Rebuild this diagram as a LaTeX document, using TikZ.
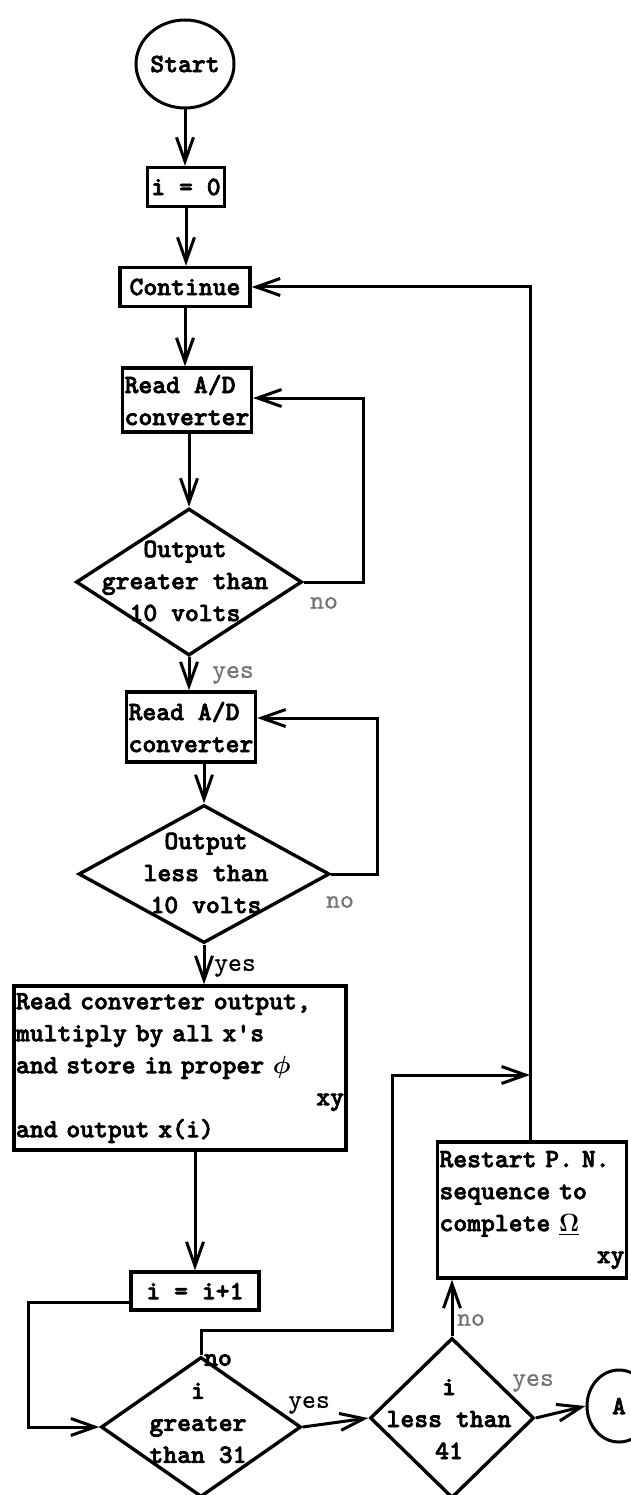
\documentclass[tikz,border=0pt]{standalone}
\usepackage{amsmath}
\usepackage[no-math]{fontspec}
\usetikzlibrary{shapes.geometric,arrows.meta}
% typewriter text, 10 characters to the inch at this scale
\newfontfamily\twb{lmmonolt10-bold.otf}[FakeBold=2.5]
\newfontfamily\twr{lmmono10-regular.otf}[FakeBold=0.6]
\newcommand{\twbold}{\twb\fontsize{26.4}{32}\selectfont}
\newcommand{\twthin}{\twr\fontsize{26.4}{32}\selectfont}
\begin{document}
\begin{tikzpicture}[x=1pt,y=-1pt,
  line width=3pt,
  every node/.style={font=\twbold},
  box/.style={draw, line width=3.4pt, inner sep=2pt, align=left},
  dia/.style={draw, diamond, inner sep=0pt, line width=3.4pt},
  term/.style={draw, ellipse, inner sep=0pt, line width=3pt},
  lbl/.style={font=\twthin},
  faint/.style={lbl, text=black!55},
  flow/.style={-{Straight Barb[length=24pt,width=17pt]}},
]
\fill[white] (0,0) rectangle (631,1495);
\useasboundingbox (0,0) rectangle (631,1495);

% process boxes and terminals
\node[term, minimum width=82pt, minimum height=88pt] (start) at (185,64) {Start};
\node[box, align=center, minimum width=77pt, minimum height=39pt] (i0) at (186,187) {i = 0};
\node[box, minimum width=130pt, minimum height=39pt] (cont) at (185,287) {Continue};
\node[box, minimum width=128pt, minimum height=64pt] (rad1) at (187,400) {Read A/D\\converter};

\node[dia, minimum width=226pt, minimum height=147pt] (d1) at (189,582) {};
\node[align=center] (t1) at (185,581) {Output\\greater than\\10 volts};

\node[box, minimum width=129pt, minimum height=70pt] (rad2) at (191,727) {Read A/D\\converter};

\node[dia, minimum width=251pt, minimum height=138pt] (d2) at (204,874) {};
\node[align=center] (t2) at (206,873) {Output\\less than\\10 volts};

\node[box, text width=328pt, minimum height=164pt] (big) at (180,1068)
  {Read converter output,\\multiply by all x's\\and store in proper $\boldsymbol{\phi}$\\\mbox{}\hfill xy\\and output x(i)};

\node[box, align=center, minimum width=128pt, minimum height=38pt] (i1) at (195,1291) {i = i+1};

\node[dia, minimum width=200pt, minimum height=140pt] (d3) at (201,1427) {};
\node[align=center] (t3) at (198,1423) {i\\greater\\than 31};

\node[dia, minimum width=164pt, minimum height=160pt] (d4) at (452,1418) {};
\node[align=center] (t4) at (449,1419) {i\\less than\\41};

\node[box, text width=185pt, minimum height=136pt] (restart) at (532,1210)
  {Restart P. N.\\sequence to\\complete $\underline{\boldsymbol{\Omega}}$\\\mbox{}\hfill xy};

\node[term, minimum width=64pt, minimum height=72pt] (A) at (619,1406) {A};

% branch labels
\node[faint] (no1) at (324,603) {no};
\node[faint] (yes1) at (233,675) {yes};
\node[faint] (no2) at (340,902) {no};
\node[lbl] (yes2) at (235,968) {yes};
\node (no3) at (218,1360) {no};
\node[lbl] (yes3) at (309,1405) {yes};
\node[faint] (no4) at (471,1320) {no};
\node[faint] (yes4) at (533,1383) {yes};

% bend points of the loops
\coordinate (r1) at (363,398);
\coordinate (r2) at (377,718);
\coordinate (l1) at (28,1302);
\coordinate (n1) at (392,1330);
\coordinate (top) at (530,287);
\coordinate (join) at (530,1075);

% main line
\draw[flow] (start.south) -- (start.south |- i0.north);
\draw[flow] (i0.south) -- (i0.south |- cont.north);
\draw[flow] (cont.south) -- (cont.south |- rad1.north);
\draw[flow] (d1.north |- rad1.south) -- (d1.north);
\draw[flow] (d1.south) -- (d1.south |- rad2.north);
\draw[flow] (d2.north |- rad2.south) -- (d2.north);
\draw[flow] (d2.south) -- (d2.south |- big.north);
\draw[flow] (i1.north |- big.south) -- (i1.north);
\draw[flow] (i1.west |- l1) -- (l1) |- (d3.west);
\draw[flow] (d3.east) -- (d4.west);
\draw[flow] (d4.east) -- (A.west);
\draw[flow] (d4.north) -- (d4.north |- restart.south);

% wait loops on the converter
\draw[flow] (d1.east) -| (r1) -- (r1 -| rad1.east);
\draw[flow] (d2.east) -| (r2) -- (r2 -| rad2.east);

% return paths to Continue
\draw[flow] (d3.north) |- (n1) |- (join);
\draw[flow] (top |- restart.north) -- (top) -- (cont.east);
\end{tikzpicture}
\end{document}
